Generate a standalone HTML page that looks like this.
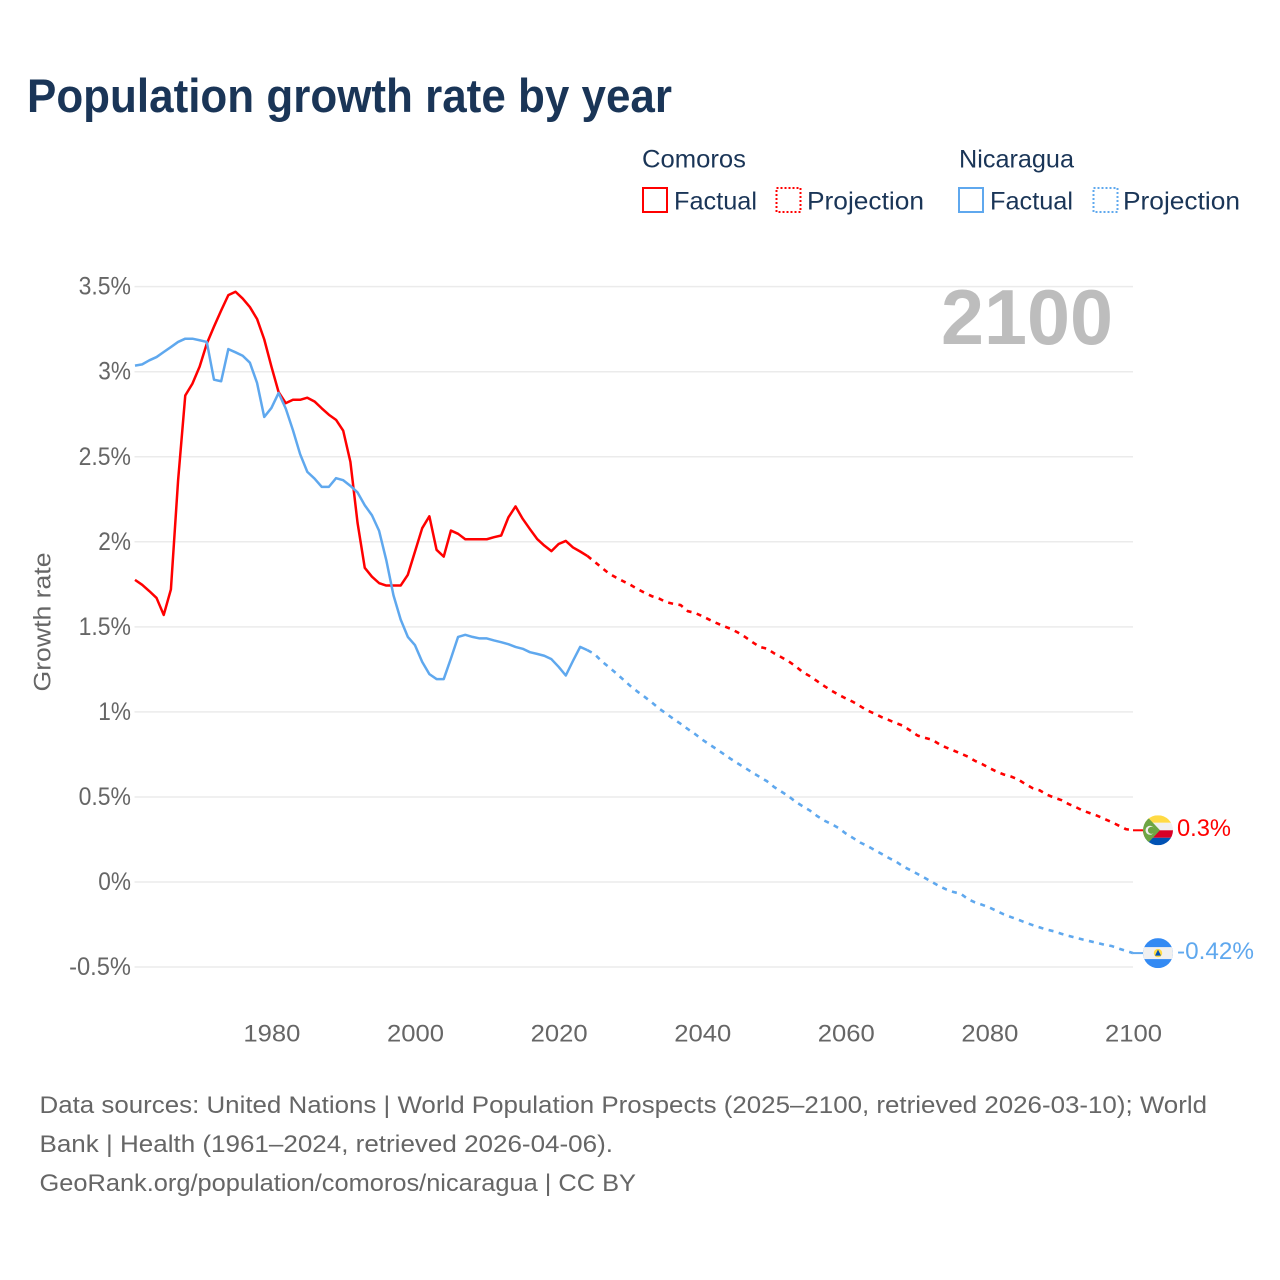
<!DOCTYPE html>
<html lang="en">
<head>
<meta charset="utf-8">
<title>Population growth rate by year</title>
<style>
html,body{margin:0;padding:0;background:#fff;}
svg{display:block;}
text{font-family:"Liberation Sans",sans-serif;}
</style>
</head>
<body>
<svg id="chart" xmlns="http://www.w3.org/2000/svg" width="1280" height="1280" viewBox="0 0 1280 1280">
  <rect width="1280" height="1280" fill="#ffffff"/>
  <text x="27" y="112" font-size="47" font-weight="700" fill="#1a3557" textLength="645" lengthAdjust="spacingAndGlyphs">Population growth rate by year</text>

  <g font-size="25" fill="#1a3557">
    <text x="642" y="167.5" textLength="104" lengthAdjust="spacingAndGlyphs">Comoros</text>
    <text x="959" y="167.5" textLength="115" lengthAdjust="spacingAndGlyphs">Nicaragua</text>
    <rect x="643" y="188" width="24" height="24" fill="none" stroke="#ff0000" stroke-width="2"/>
    <text x="674" y="209.5" textLength="83" lengthAdjust="spacingAndGlyphs">Factual</text>
    <rect x="776.5" y="188" width="24" height="24" fill="none" stroke="#ff0000" stroke-width="2" stroke-dasharray="2 2"/>
    <text x="807" y="209.5" textLength="117" lengthAdjust="spacingAndGlyphs">Projection</text>
    <rect x="959" y="188" width="24" height="24" fill="none" stroke="#5fa8ee" stroke-width="2"/>
    <text x="990" y="209.5" textLength="83" lengthAdjust="spacingAndGlyphs">Factual</text>
    <rect x="1093.5" y="188" width="24" height="24" fill="none" stroke="#5fa8ee" stroke-width="2" stroke-dasharray="2 2"/>
    <text x="1123" y="209.5" textLength="117" lengthAdjust="spacingAndGlyphs">Projection</text>
  </g>

  <g id="grid"></g>
  <g id="y-labels" font-size="25" fill="#666666"></g>
  <g id="x-labels" font-size="24.5" fill="#666666"></g>
  <text transform="translate(50.5 622) rotate(-90)" text-anchor="middle" font-size="24.5" fill="#666666" textLength="139" lengthAdjust="spacingAndGlyphs">Growth rate</text>
  <text x="941" y="344" font-size="78" font-weight="700" fill="#bdbdbd" textLength="172" lengthAdjust="spacingAndGlyphs">2100</text>

  <g id="series"></g>

  <defs>
    <clipPath id="clip-comoros"><circle cx="1158" cy="830" r="15"/></clipPath>
    <clipPath id="clip-nicaragua"><circle cx="1158" cy="953" r="15"/></clipPath>
  </defs>
  <g id="flag-comoros-anchor">
    <g clip-path="url(#clip-comoros)">
      <rect x="1143" y="815" width="30" height="7.5" fill="#ffda44"/>
      <rect x="1143" y="822.5" width="30" height="7.5" fill="#f0f0f0"/>
      <rect x="1143" y="830" width="30" height="7.5" fill="#d80027"/>
      <rect x="1143" y="837.5" width="30" height="7.5" fill="#0052b4"/>
      <polygon points="1143,812 1160,830 1143,848" fill="#6da544"/>
      <circle cx="1150" cy="830" r="4.5" fill="#f0f0f0"/>
      <circle cx="1151.5" cy="830" r="3.6" fill="#6da544"/>
    </g>
  </g>
  <g id="flag-nicaragua-anchor">
    <g clip-path="url(#clip-nicaragua)">
      <rect x="1143" y="938" width="30" height="30" fill="#338af3"/>
      <rect x="1143" y="947" width="30" height="12" fill="#f0f0f0"/>
      <circle cx="1158" cy="953" r="4.2" fill="#ffda44"/>
      <polygon points="1158,949.5 1161,955.5 1155,955.5" fill="#0052b4"/>
    </g>
  </g>
  <text id="end-label-comoros" x="1177" y="836" font-size="24.5" fill="#ff0000" textLength="54" lengthAdjust="spacingAndGlyphs"></text>
  <text id="end-label-nicaragua" x="1177" y="959" font-size="24.5" fill="#5fa8ee" textLength="77" lengthAdjust="spacingAndGlyphs"></text>

  <g font-size="24.5" fill="#666666">
    <text x="39.5" y="1113" textLength="1167.5" lengthAdjust="spacingAndGlyphs">Data sources: United Nations | World Population Prospects (2025–2100, retrieved 2026-03-10); World</text>
    <text x="39.5" y="1152" textLength="573.5" lengthAdjust="spacingAndGlyphs">Bank | Health (1961–2024, retrieved 2026-04-06).</text>
    <text x="39.5" y="1191" textLength="596.5" lengthAdjust="spacingAndGlyphs">GeoRank.org/population/comoros/nicaragua | CC BY</text>
  </g>
</svg>

<script>
const firstFactualYear = 1961;
const firstProjectionYear = 2024;
const yTicks = [-0.5, 0, 0.5, 1, 1.5, 2, 2.5, 3, 3.5];
const yTickLabels = ["-0.5%", "0%", "0.5%", "1%", "1.5%", "2%", "2.5%", "3%", "3.5%"];
const xTicks = [1980, 2000, 2020, 2040, 2060, 2080, 2100];
const xTickLabels = ["1980", "2000", "2020", "2040", "2060", "2080", "2100"];

const comorosFactual = [1.776,1.747,1.71,1.67,1.57,1.72,2.36,2.86,2.93,3.03,3.165,3.265,3.36,3.45,3.47,3.43,3.38,3.31,3.19,3.03,2.88,2.815,2.835,2.835,2.847,2.825,2.785,2.747,2.717,2.653,2.47,2.11,1.847,1.795,1.757,1.743,1.743,1.743,1.806,1.943,2.08,2.15,1.953,1.913,2.066,2.047,2.015,2.015,2.015,2.015,2.027,2.037,2.143,2.208,2.135,2.075,2.017,1.978,1.945,1.987,2.005,1.967,1.943,1.917];
const comorosProjection = [1.917,1.883,1.848,1.814,1.79,1.768,1.747,1.722,1.70,1.68,1.666,1.645,1.635,1.628,1.592,1.582,1.563,1.542,1.522,1.504,1.488,1.466,1.44,1.41,1.382,1.372,1.345,1.322,1.298,1.269,1.234,1.21,1.181,1.152,1.125,1.101,1.079,1.059,1.034,1.008,0.99,0.969,0.952,0.934,0.918,0.89,0.861,0.848,0.837,0.811,0.79,0.773,0.755,0.737,0.712,0.693,0.67,0.649,0.632,0.62,0.603,0.576,0.552,0.539,0.514,0.496,0.482,0.459,0.441,0.42,0.405,0.39,0.371,0.353,0.332,0.311,0.304];
const nicaraguaFactual = [3.036,3.043,3.067,3.086,3.116,3.145,3.175,3.194,3.194,3.185,3.175,2.953,2.944,3.133,3.114,3.094,3.053,2.934,2.734,2.787,2.875,2.783,2.656,2.515,2.411,2.372,2.323,2.323,2.374,2.362,2.329,2.29,2.215,2.156,2.064,1.892,1.686,1.543,1.441,1.392,1.294,1.222,1.193,1.193,1.314,1.441,1.453,1.441,1.432,1.432,1.42,1.41,1.398,1.382,1.371,1.351,1.341,1.33,1.31,1.265,1.214,1.30,1.382,1.363];
const nicaraguaProjection = [1.363,1.34,1.298,1.263,1.228,1.19,1.152,1.119,1.088,1.055,1.02,0.989,0.959,0.93,0.899,0.87,0.837,0.809,0.781,0.752,0.723,0.696,0.67,0.643,0.618,0.593,0.559,0.532,0.505,0.472,0.445,0.42,0.388,0.361,0.341,0.317,0.285,0.259,0.232,0.212,0.188,0.165,0.141,0.12,0.091,0.07,0.047,0.024,0,-0.024,-0.044,-0.059,-0.069,-0.10,-0.12,-0.134,-0.15,-0.17,-0.19,-0.206,-0.221,-0.238,-0.253,-0.267,-0.28,-0.29,-0.304,-0.316,-0.327,-0.338,-0.348,-0.358,-0.369,-0.376,-0.391,-0.405,-0.418];

const NS = "http://www.w3.org/2000/svg";
const COLOR_RED = "#ff0000";
const COLOR_BLUE = "#5fa8ee";
const plotLeft = 135;
const plotRight = 1133;
const xScale = year => plotLeft + (year - firstFactualYear) * (plotRight - plotLeft) / (2100 - firstFactualYear);
const yScale = value => 882 - value * 170.1;

function svgEl(tag, attrs) {
  const el = document.createElementNS(NS, tag);
  Object.keys(attrs).forEach(k => el.setAttribute(k, attrs[k]));
  return el;
}

const charWidths = {"-": 9.5, ".": 5.5, "%": 18.5};
function labelWidth(label) {
  return label.split("").reduce((sum, c) => sum + (charWidths[c] || 14.2), 0);
}

const gridGroup = document.getElementById("grid");
const yLabelGroup = document.getElementById("y-labels");
yTicks.forEach((tick, i) => {
  const line = svgEl("line", {x1: 134.5, x2: plotRight, y1: yScale(tick), y2: yScale(tick), stroke: "#ebebeb", "stroke-width": 1.5});
  
  
  gridGroup.appendChild(line);
  const label = svgEl("text", {x: 131, y: yScale(tick) + 8, "text-anchor": "end", textLength: labelWidth(yTickLabels[i]), lengthAdjust: "spacingAndGlyphs"});
  label.textContent = yTickLabels[i];
  
  
  yLabelGroup.appendChild(label);
});

const xLabelGroup = document.getElementById("x-labels");
xTicks.forEach((tick, i) => {
  const label = svgEl("text", {x: xScale(tick) + 0.5, y: 1041.5, "text-anchor": "middle", textLength: 57, lengthAdjust: "spacingAndGlyphs"});
  label.textContent = xTickLabels[i];
  
  
  xLabelGroup.appendChild(label);
});

function linePoints(values, startYear) {
  return values.map((v, i) => xScale(startYear + i).toFixed(2) + "," + yScale(v).toFixed(2)).join(" ");
}

const seriesGroup = document.getElementById("series");

const comorosProjectionLine = svgEl("polyline", {points: linePoints(comorosProjection, firstProjectionYear), fill: "none", stroke: COLOR_RED, "stroke-width": 2.6, "stroke-dasharray": "5 5.45"});


seriesGroup.appendChild(comorosProjectionLine);

const comorosFactualLine = svgEl("polyline", {points: linePoints(comorosFactual, firstFactualYear), fill: "none", stroke: COLOR_RED, "stroke-width": 2.5, "stroke-linejoin": "round"});


seriesGroup.appendChild(comorosFactualLine);

const nicaraguaProjectionLine = svgEl("polyline", {points: linePoints(nicaraguaProjection, firstProjectionYear), fill: "none", stroke: COLOR_BLUE, "stroke-width": 2.6, "stroke-dasharray": "5 5.45"});


seriesGroup.appendChild(nicaraguaProjectionLine);

const nicaraguaFactualLine = svgEl("polyline", {points: linePoints(nicaraguaFactual, firstFactualYear), fill: "none", stroke: COLOR_BLUE, "stroke-width": 2.5, "stroke-linejoin": "round"});


seriesGroup.appendChild(nicaraguaFactualLine);

const comorosEnd = comorosProjection[comorosProjection.length - 1];
const nicaraguaEnd = nicaraguaProjection[nicaraguaProjection.length - 1];

const comorosConnector = svgEl("line", {x1: plotRight, x2: 1146, y1: yScale(comorosEnd), y2: yScale(comorosEnd), stroke: COLOR_RED, "stroke-width": 2});


seriesGroup.appendChild(comorosConnector);

const nicaraguaConnector = svgEl("line", {x1: plotRight, x2: 1146, y1: yScale(nicaraguaEnd), y2: yScale(nicaraguaEnd), stroke: COLOR_BLUE, "stroke-width": 2});


seriesGroup.appendChild(nicaraguaConnector);

const formatEnd = v => (Math.round(v * 100) / 100) + "%";
document.getElementById("end-label-comoros").textContent = formatEnd(comorosEnd);
document.getElementById("end-label-nicaragua").textContent = formatEnd(nicaraguaEnd);
document.getElementById("end-label-comoros").setAttribute("y", yScale(comorosEnd) + 5.5);
document.getElementById("end-label-nicaragua").setAttribute("y", yScale(nicaraguaEnd) + 6);
document.getElementById("flag-comoros-anchor").setAttribute("transform", "translate(0 " + (yScale(comorosEnd) - 830) + ")");
document.getElementById("flag-nicaragua-anchor").setAttribute("transform", "translate(0 " + (yScale(nicaraguaEnd) - 953) + ")");
</script>
</body>
</html>
